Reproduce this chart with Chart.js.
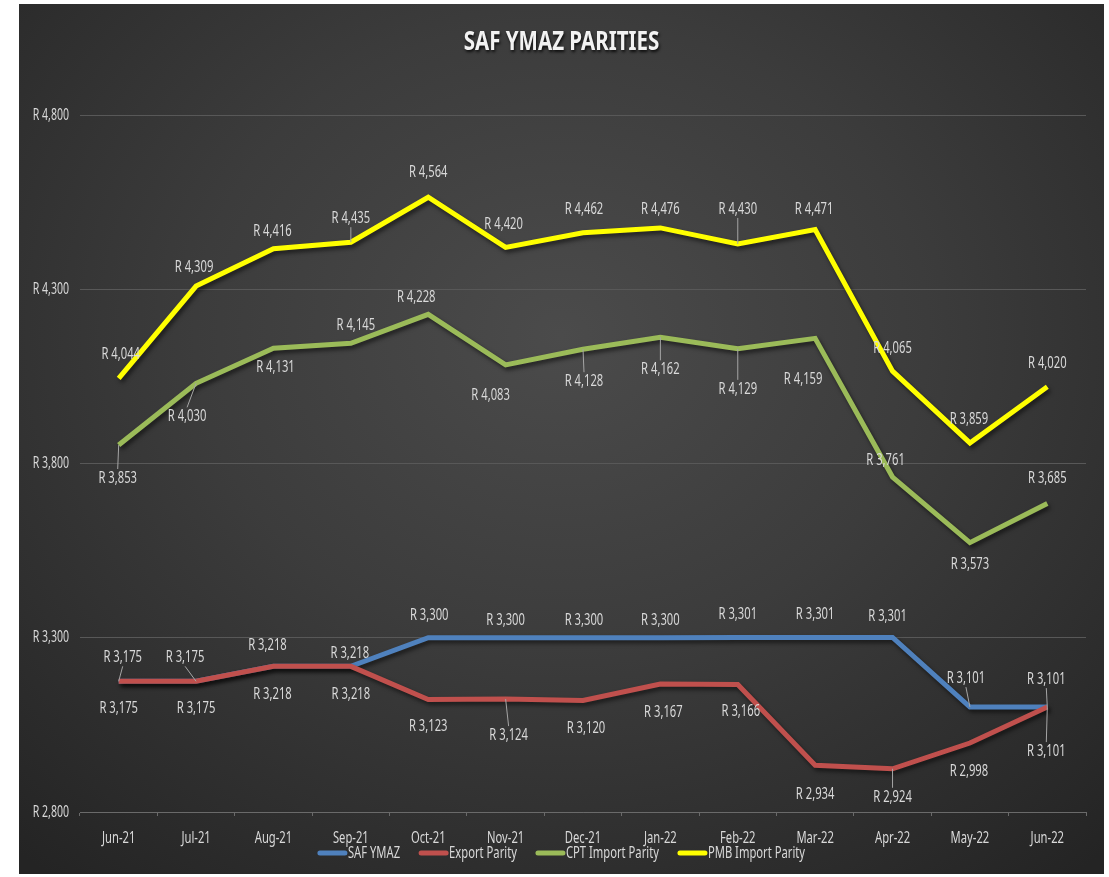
<!DOCTYPE html>
<html>
<head>
<meta charset="utf-8">
<script src="https://cdn.jsdelivr.net/npm/chart.js@4.4.1/dist/chart.umd.min.js"></script>
<style>
  html, body { margin: 0; padding: 0; background: #ffffff; width: 1109px; height: 877px; overflow: hidden; }
  #wrap {
    position: absolute; left: 19px; top: 4px; width: 1085px; height: 870px;
    background: radial-gradient(ellipse 75% 80% at 50% 38%, #4b4b4b 0%, #3c3c3c 45%, #242424 100%);
  }
  canvas { display: block; }
</style>
</head>
<body>
<div id="wrap"><canvas id="c" width="1085" height="870"></canvas></div>
<script>
// ---- data ----
const categories = ["Jun-21","Jul-21","Aug-21","Sep-21","Oct-21","Nov-21","Dec-21","Jan-22","Feb-22","Mar-22","Apr-22","May-22","Jun-22"];
const safYmaz      = [3175, 3175, 3218, 3218, 3300, 3300, 3300, 3300, 3301, 3301, 3301, 3101, 3101];
const exportParity = [3175, 3175, 3218, 3218, 3123, 3124, 3120, 3167, 3166, 2934, 2924, 2998, 3101];
const cptImport    = [3853, 4030, 4131, 4145, 4228, 4083, 4128, 4162, 4129, 4159, 3761, 3573, 3685];
const pmbImport    = [4044, 4309, 4416, 4435, 4564, 4420, 4462, 4476, 4430, 4471, 4065, 3859, 4020];
const seriesNames  = ["SAF YMAZ", "Export Parity", "CPT Import Parity", "PMB Import Parity"];
const yTicks       = [2800, 3300, 3800, 4300, 4800];

// ---- label placement (pixel offsets from each point, and leader-line flags) ----
const labelOffsets = [
  [[4,-24],[-11,-24],[-6,-21],[-1,-13],[1,-23],[0,-18],[1,-18],[0,-18],[0,-23],[0,-23],[-5,-21],[-4,-29],[-1,-28]],
  [[0,27],[0,27],[-1,28],[0,28],[0,27],[3,36],[3,28],[3,28],[3,27],[0,29],[0,28],[-1,28],[-1,44]],
  [[-1,33],[-9,33],[2,19],[5,-18],[-12,-17],[-15,30],[1,32],[0,32],[0,40],[-12,41],[-7,-17],[0,22],[0,-25]],
  [[2,-24],[-2,-19],[-1,-18],[0,-24],[0,-25],[-2,-23],[1,-24],[0,-19],[0,-35],[-1,-21],[0,-23],[-1,-24],[0,-24]]
];
const leaders = [
  [0,1,11,12],
  [5,10,12],
  [0,1,6,7,8],
  [3,8]
];

const FONT = '"Noto Sans", "Open Sans", sans-serif';
const SX = 0.66;  // horizontal condensing to mimic a narrow face
const colors = ["#4f81bd", "#c0504d", "#9bbb59", "#ffff00"];
const fmt = v => "R " + v.toLocaleString("en-US");

function narrowText(ctx, text, x, y, sx) {
  ctx.save();
  ctx.translate(x, y);
  ctx.scale(sx, 1);
  ctx.fillText(text, 0, 0);
  ctx.restore();
}

const shadowPlugin = {
  id: "lineShadow",
  beforeDatasetDraw(chart) {
    const ctx = chart.ctx;
    ctx.save();
    ctx.shadowColor = "rgba(0,0,0,0.55)";
    ctx.shadowBlur = 4;
    ctx.shadowOffsetX = 2;
    ctx.shadowOffsetY = 3;
  },
  afterDatasetDraw(chart) { chart.ctx.restore(); }
};

// axis tick labels, placed by the library's scales, drawn narrow
const axisLabelPlugin = {
  id: "axisLabels",
  afterDraw(chart) {
    const ctx = chart.ctx;
    const xs = chart.scales.x, ys = chart.scales.y;
    const area = chart.chartArea;
    ctx.save();
    ctx.fillStyle = "#d9d9d9";
    ctx.font = "16px " + FONT;
    ctx.textBaseline = "middle";
    ctx.textAlign = "right";
    ys.ticks.forEach((t) => {
      narrowText(ctx, fmt(t.value), area.left - 11, ys.getPixelForValue(t.value), SX);
    });
    ctx.font = "17px " + FONT;
    ctx.textAlign = "center";
    categories.forEach((c, i) => {
      narrowText(ctx, c, xs.getPixelForValue(i), area.bottom + 26, SX);
    });
    ctx.restore();
  }
};

const labelPlugin = {
  id: "dataLabels",
  afterDatasetsDraw(chart) {
    const ctx = chart.ctx;
    ctx.save();
    ctx.font = "17px " + FONT;
    ctx.textAlign = "center";
    ctx.textBaseline = "middle";
    chart.data.datasets.forEach((ds, di) => {
      const meta = chart.getDatasetMeta(di);
      meta.data.forEach((pt, i) => {
        const [dx, dy] = labelOffsets[di][i];
        const cx = pt.x + dx, cy = pt.y + dy;
        if (leaders[di].includes(i)) {
          ctx.strokeStyle = "#a6a6a6";
          ctx.lineWidth = 1;
          ctx.beginPath();
          ctx.moveTo(cx, dy > 0 ? cy - 9 : cy + 9);
          ctx.lineTo(pt.x, pt.y);
          ctx.stroke();
        }
        ctx.fillStyle = "#d9d9d9";
        narrowText(ctx, fmt(ds.data[i]), cx, cy, SX);
      });
    });
    ctx.restore();
  }
};

const titleLegendPlugin = {
  id: "titleLegend",
  afterDraw(chart) {
    const ctx = chart.ctx;
    const W = chart.width;
    ctx.save();
    // title
    ctx.font = "bold 27px " + FONT;
    ctx.textAlign = "center";
    ctx.textBaseline = "middle";
    ctx.shadowColor = "rgba(0,0,0,0.8)";
    ctx.shadowBlur = 3;
    ctx.shadowOffsetX = 1;
    ctx.shadowOffsetY = 2;
    ctx.fillStyle = "#f2f2f2";
    narrowText(ctx, "SAF YMAZ PARITIES", W / 2, 38, 0.76);
    ctx.restore();

    // legend
    ctx.save();
    ctx.font = "17px " + FONT;
    ctx.textBaseline = "middle";
    const lineW = 29, gap = 1, spacing = 19;
    const widths = seriesNames.map(n => lineW + gap + ctx.measureText(n).width * SX);
    const total = widths.reduce((a, b) => a + b, 0) + spacing * (seriesNames.length - 1);
    let x = W / 2 - total / 2;
    const y = 849;
    seriesNames.forEach((n, i) => {
      ctx.strokeStyle = colors[i];
      ctx.lineWidth = 5;
      ctx.lineCap = "round";
      ctx.beginPath();
      ctx.moveTo(x + 2, y);
      ctx.lineTo(x + lineW - 2, y);
      ctx.stroke();
      ctx.fillStyle = "#d9d9d9";
      ctx.textAlign = "left";
      narrowText(ctx, n, x + lineW + gap, y, SX);
      x += widths[i] + spacing;
    });
    ctx.restore();
  }
};

const seriesData = [safYmaz, exportParity, cptImport, pmbImport];
const datasets = seriesNames.map((name, i) => ({
  label: name,
  data: seriesData[i],
  borderColor: colors[i],
  backgroundColor: colors[i],
  borderWidth: 5,
  pointRadius: 0,
  pointHoverRadius: 0,
  tension: 0,
  fill: false,
  order: 4 - i
}));

new Chart(document.getElementById("c"), {
  type: "line",
  data: { labels: categories, datasets },
  options: {
    responsive: false,
    animation: false,
    layout: { padding: { top: 111, right: 18, bottom: 32, left: 0 } },
    plugins: { legend: { display: false }, title: { display: false }, tooltip: { enabled: false } },
    scales: {
      x: {
        offset: true,
        grid: { display: true, drawOnChartArea: false, drawTicks: true, tickLength: 4, color: "#6a6a6a", offset: true },
        border: { display: true, color: "#6a6a6a", width: 1 },
        ticks: { display: false, autoSkip: false },
        afterFit(scale) { scale.height = 30; }
      },
      y: {
        min: 2800, max: 4800,
        afterBuildTicks(scale) { scale.ticks = yTicks.map(v => ({ value: v })); },
        grid: { color: "#585858", lineWidth: 1, drawTicks: false },
        border: { display: false },
        ticks: { display: false },
        afterFit(scale) { scale.width = 61; }
      }
    }
  },
  plugins: [shadowPlugin, labelPlugin, axisLabelPlugin, titleLegendPlugin]
});
</script>
</body>
</html>
